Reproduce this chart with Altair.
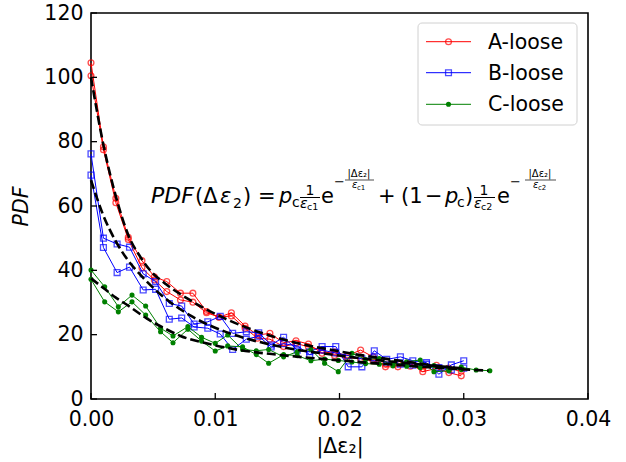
import altair as alt
import pandas as pd

# ---------------- data ----------------
series_names = ["A-loose", "B-loose", "C-loose"]
series_colors = ["#ff0000", "#0000ff", "#008000"]

A_x = [0.0, 0.001, 0.002, 0.003, 0.0041, 0.0051, 0.0061, 0.0072, 0.0082, 0.0093,
       0.0103, 0.0113, 0.0124, 0.0134, 0.0144, 0.0155, 0.0165, 0.0175, 0.0186, 0.0196,
       0.0206, 0.0217, 0.0227, 0.0237, 0.0247, 0.0257, 0.0267, 0.0278, 0.0288, 0.0298]
A_y1 = [104.5, 78.4, 62.4, 50.3, 43.0, 38.0, 36.5, 32.9, 32.9, 27.2,
        25.4, 26.8, 22.7, 19.9, 20.4, 17.5, 18.1, 17.1, 14.2, 14.7,
        13.4, 15.2, 13.1, 10.0, 10.0, 11.0, 8.5, 9.5, 8.2, 7.2]
A_y2 = [100.5, 77.5, 61.0, 49.6, 40.8, 37.0, 33.4, 30.8, 30.1, 26.8,
        25.5, 25.8, 22.0, 18.9, 18.6, 16.3, 17.3, 16.2, 15.2, 13.5,
        12.8, 12.5, 11.8, 10.8, 11.2, 10.2, 9.4, 10.5, 9.6, 8.6]

B_x = [0.0, 0.001, 0.0021, 0.0031, 0.0042, 0.0052, 0.0063, 0.0073, 0.0083, 0.0094,
       0.0104, 0.0114, 0.0125, 0.0135, 0.0145, 0.0155, 0.0166, 0.0176, 0.0186, 0.0197,
       0.0207, 0.0218, 0.0228, 0.0238, 0.0249, 0.0259, 0.027, 0.028, 0.029, 0.030]
B_y1 = [76.2, 50.0, 48.2, 47.2, 38.9, 36.5, 29.7, 28.9, 23.3, 24.0,
        25.7, 20.4, 20.9, 20.6, 16.8, 19.2, 15.2, 14.7, 16.3, 16.3,
        10.0, 10.0, 15.0, 12.3, 13.1, 11.9, 11.3, 7.7, 10.6, 11.9]
B_y2 = [69.6, 47.1, 39.3, 41.0, 33.9, 34.1, 24.8, 25.2, 22.4, 22.0,
        20.2, 15.4, 18.6, 19.5, 16.2, 17.2, 16.5, 13.8, 15.2, 14.3,
        13.5, 12.5, 12.8, 11.5, 10.8, 10.5, 10.8, 9.8, 9.0, 9.6]

C_x = [0.0, 0.0011, 0.0022, 0.0033, 0.0044, 0.0056, 0.0066, 0.0078, 0.0089, 0.010,
       0.011, 0.0122, 0.0133, 0.0143, 0.0155, 0.0166, 0.0177, 0.0188, 0.0199, 0.021,
       0.0221, 0.0232, 0.0243, 0.0254, 0.0265, 0.0276, 0.0288, 0.0298, 0.031, 0.0321]
C_y1 = [40.1, 34.9, 28.7, 32.3, 28.9, 22.0, 19.6, 22.5, 19.2, 17.3,
        19.9, 15.4, 15.0, 15.4, 13.1, 14.7, 15.4, 11.1, 8.5, 14.2,
        12.3, 12.6, 10.3, 11.6, 12.1, 8.5, 8.8, 9.9, 9.0, 8.8]
C_y2 = [37.2, 30.2, 27.1, 30.2, 26.1, 20.9, 17.5, 21.7, 18.0, 14.9,
        16.5, 16.2, 13.8, 11.1, 13.8, 13.5, 11.9, 12.4, 12.0, 11.5,
        11.0, 10.8, 11.2, 10.2, 9.8, 10.4, 9.5, 9.2]

# fitted double-exponential curves
fitA_x = [0.0, 0.001, 0.002, 0.003, 0.004, 0.005, 0.0056, 0.0082, 0.0109, 0.0152, 0.020, 0.025, 0.030]
fitA_y = [100.0, 79.0, 63.0, 51.0, 44.0, 39.0, 37.0, 30.2, 24.8, 18.8, 14.8, 11.8, 9.3]
fitB_x = [0.0, 0.001, 0.002, 0.003, 0.004, 0.0056, 0.0082, 0.0109, 0.0152, 0.020, 0.025, 0.030]
fitB_y = [68.0, 57.0, 49.0, 43.0, 38.5, 32.5, 25.5, 20.8, 16.3, 13.5, 11.3, 9.5]
fitC_x = [0.0, 0.001, 0.002, 0.003, 0.0045, 0.006, 0.0072, 0.0093, 0.012, 0.0152, 0.020, 0.025, 0.030, 0.032]
fitC_y = [37.5, 34.5, 31.5, 29.0, 25.0, 21.8, 19.6, 17.3, 15.2, 13.7, 12.0, 10.5, 9.2, 8.8]

x_ticks = [0.0, 0.01, 0.02, 0.03, 0.04]
y_ticks = [0, 20, 40, 60, 80, 100, 120]

# ---------------- layout ----------------
W, H = 497, 386
PL, PT = 91, 13
FONT = "DejaVu Sans"
FS = 20.5


def frame(xs, ys, name, trace):
    n = min(len(xs), len(ys))
    return pd.DataFrame({"x": xs[:n], "y": ys[:n], "series": name, "trace": trace})


data_sets = {
    "A-loose": pd.concat([frame(A_x, A_y1, "A-loose", "1"), frame(A_x, A_y2, "A-loose", "2")]),
    "B-loose": pd.concat([frame(B_x, B_y1, "B-loose", "1"), frame(B_x, B_y2, "B-loose", "2")]),
    "C-loose": pd.concat([frame(C_x, C_y1, "C-loose", "1"), frame(C_x, C_y2, "C-loose", "2")]),
}
fits = pd.concat([
    pd.DataFrame({"x": fitA_x, "y": fitA_y, "fit": "A"}),
    pd.DataFrame({"x": fitB_x, "y": fitB_y, "fit": "B"}),
    pd.DataFrame({"x": fitC_x, "y": fitC_y, "fit": "C"}),
])

xscale = alt.Scale(domain=[0, 0.04], nice=False, zero=False)
yscale = alt.Scale(domain=[0, 120], nice=False)

xaxis = alt.Axis(values=x_ticks, format=".2f", labelFont=FONT, labelFontSize=FS,
                 labelColor="black", ticks=False, domain=False, grid=False,
                 labelPadding=10, labelFlush=False, labelOverlap=False, title="|Δε₂|",
                 titleFont=FONT, titleFontSize=FS, titleFontWeight="normal",
                 titleColor="black", titlePadding=7)
yaxis = alt.Axis(values=y_ticks, labelFont=FONT, labelFontSize=FS, labelColor="black",
                 ticks=False, domain=False, grid=False, labelPadding=8, labelFlush=False,
                 labelOverlap=False, title="PDF", titleFont=FONT, titleFontSize=FS,
                 titleFontWeight="normal", titleFontStyle="italic", titleColor="black",
                 titlePadding=12)


def X(field):
    return alt.X(field, scale=xscale, axis=xaxis)


def Y(field):
    return alt.Y(field, scale=yscale, axis=yaxis)


layers = []

marker_props = {
    "A-loose": dict(shape="circle", filled=False, size=34, strokeWidth=1.3),
    "B-loose": dict(shape="square", filled=False, size=34, strokeWidth=1.3),
    "C-loose": dict(shape="circle", filled=True, size=26, opacity=1),
}
for name, col in zip(series_names, series_colors):
    df = data_sets[name]
    line = alt.Chart(df).mark_line(color=col, strokeWidth=1).encode(
        x=X("x:Q"), y=Y("y:Q"), detail="trace:N")
    pts = alt.Chart(df).mark_point(color=col, **marker_props[name]).encode(
        x=X("x:Q"), y=Y("y:Q"))
    layers += [line, pts]

# fitted dashed curves
layers.append(alt.Chart(fits).mark_line(color="black", strokeWidth=2.6, strokeDash=[9, 4],
                                        interpolate="monotone").encode(
    x=X("x:Q"), y=Y("y:Q"), detail="fit:N"))

# inward ticks
layers.append(alt.Chart(pd.DataFrame({"x": x_ticks})).mark_rule(color="black", strokeWidth=1.3).encode(
    x=X("x:Q"), y=alt.value(H), y2=alt.value(H - 6)))
layers.append(alt.Chart(pd.DataFrame({"y": y_ticks})).mark_rule(color="black", strokeWidth=1.3).encode(
    y=Y("y:Q"), x=alt.value(0), x2=alt.value(6)))

# legend (drawn manually to get line+marker symbols)
one = pd.DataFrame({"a": [0]})
layers.append(alt.Chart(one).mark_rect(fill="white", stroke="#cccccc", strokeWidth=1,
                                       cornerRadius=4, opacity=0.9).encode(
    x=alt.value(327), x2=alt.value(486), y=alt.value(10), y2=alt.value(112)))
row_y = [28.7, 59.7, 91.3]
for name, col, ry in zip(series_names, series_colors, row_y):
    layers.append(alt.Chart(one).mark_rule(color=col, strokeWidth=1).encode(
        x=alt.value(335), x2=alt.value(380), y=alt.value(ry)))
    layers.append(alt.Chart(one).mark_point(color=col, **marker_props[name]).encode(
        x=alt.value(357.5), y=alt.value(ry)))
    layers.append(alt.Chart(one).mark_text(text=name, font=FONT, fontSize=FS, color="black",
                                           align="left", baseline="middle").encode(
        x=alt.value(397), y=alt.value(ry + 1)))

# equation annotation: (text, x_abs, baseline_abs, size, style, align)
eq_pieces = [
    ("PDF", 151, 203, 22, "italic", "left"),
    ("(Δ", 195, 203, 21, "normal", "left"),
    ("ε", 220, 203, 21, "italic", "left"),
    ("2", 233, 207.5, 14, "normal", "left"),
    (")", 243, 203, 21, "normal", "left"),
    ("=", 258, 203, 21, "normal", "left"),
    ("p", 279, 203, 21, "italic", "left"),
    ("c", 292, 207, 14, "normal", "left"),
    ("1", 310, 195, 14, "normal", "center"),
    ("ε", 300, 208, 14, "italic", "left"),
    ("c1", 307, 210, 9.5, "normal", "left"),
    ("e", 321, 203, 21, "normal", "left"),
    ("−", 334, 186, 13, "normal", "left"),
    ("|Δε₂|", 359, 177, 10, "normal", "center"),
    ("ε", 352, 188, 10, "italic", "left"),
    ("c1", 357, 189.5, 7, "normal", "left"),
    ("+", 378, 203, 21, "normal", "left"),
    ("(1", 401, 203, 21, "normal", "left"),
    ("−", 425, 203, 21, "normal", "left"),
    ("p", 445, 203, 21, "italic", "left"),
    ("c", 457, 207, 14, "normal", "left"),
    (")", 465, 203, 21, "normal", "left"),
    ("1", 484, 195, 14, "normal", "center"),
    ("ε", 474, 208, 14, "italic", "left"),
    ("c2", 481, 210, 9.5, "normal", "left"),
    ("e", 497, 203, 21, "normal", "left"),
    ("−", 510, 186, 13, "normal", "left"),
    ("|Δε₂|", 540, 177, 10, "normal", "center"),
    ("ε", 533, 188, 10, "italic", "left"),
    ("c2", 538, 189.5, 7, "normal", "left"),
]
for txt, ax, ay, sz, st, al in eq_pieces:
    layers.append(alt.Chart(one).mark_text(text=txt, font=FONT, fontSize=sz, fontStyle=st,
                                           color="black", align=al, baseline="alphabetic").encode(
        x=alt.value(ax - PL), y=alt.value(ay - PT)))
# fraction bars
for x1, x2, yb, sw in [(300, 320, 197.5, 1), (474, 495, 197.5, 1),
                       (345, 374, 180, 0.7), (525, 556, 180, 0.7)]:
    layers.append(alt.Chart(one).mark_rule(color="black", strokeWidth=sw).encode(
        x=alt.value(x1 - PL), x2=alt.value(x2 - PL), y=alt.value(yb - PT)))

chart = alt.layer(*layers).properties(
    width=W, height=H,
    padding={"left": PL, "top": PT, "right": 626 - PL - W, "bottom": 462 - PT - H},
    autosize=alt.AutoSizeParams(type="none"),
    background="white",
).configure_view(stroke="black", strokeWidth=1.6)

chart.save("out.html", embed_options={"renderer": "svg", "actions": False})
